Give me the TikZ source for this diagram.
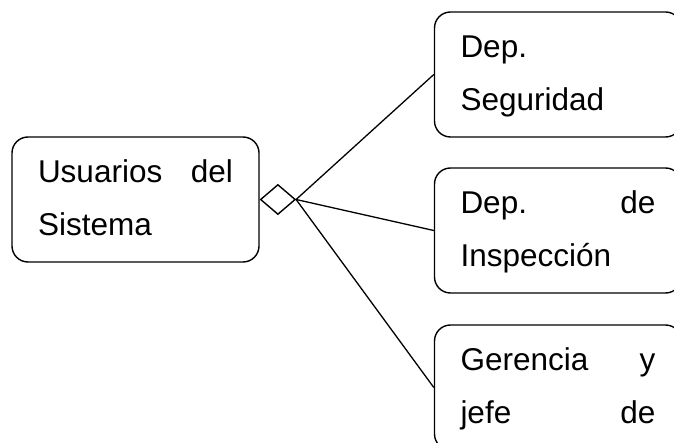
\documentclass[tikz,border=0pt]{standalone}
\usepackage{fontspec}
\setmainfont{Liberation Sans}
\usetikzlibrary{shapes.geometric}
\begin{document}
\begin{tikzpicture}[x=1pt,y=-1pt,
  entity/.style={draw, line width=1.4pt, rectangle, rounded corners=16pt,
    minimum width=247pt, minimum height=125pt, text width=195pt,
    align=left, inner xsep=0pt, inner ysep=0pt,
    text height=45.5pt, text depth=79.5pt,
    font=\fontsize{31.5}{53}\selectfont},
  relation/.style={draw, diamond, line width=1.4pt, minimum width=35pt,
    minimum height=30pt, inner sep=0pt},
  link/.style={line width=1.3pt}]
\useasboundingbox (0,0) rectangle (674,443);

% entities
\node[entity] (users) at (135.5,199.5) {Usuarios\hfill del\\Sistema};
\node[entity] (seg)   at (558,74.5)    {Dep.\\Seguridad};
\node[entity] (insp)  at (558,230.5)   {Dep.\hfill de\\Inspección};
\node[entity] (ger)   at (558,387.5)   {Gerencia\hfill y\\jefe\hfill de};

% relationship diamond attached to the users box
\node[relation, anchor=west] (rel) at (users.east) {};

% connectors
\draw[link] (rel.east) -- (seg.west);
\draw[link] (rel.east) -- (insp.west);
\draw[link] (rel.east) -- (ger.west);
\end{tikzpicture}
\end{document}
